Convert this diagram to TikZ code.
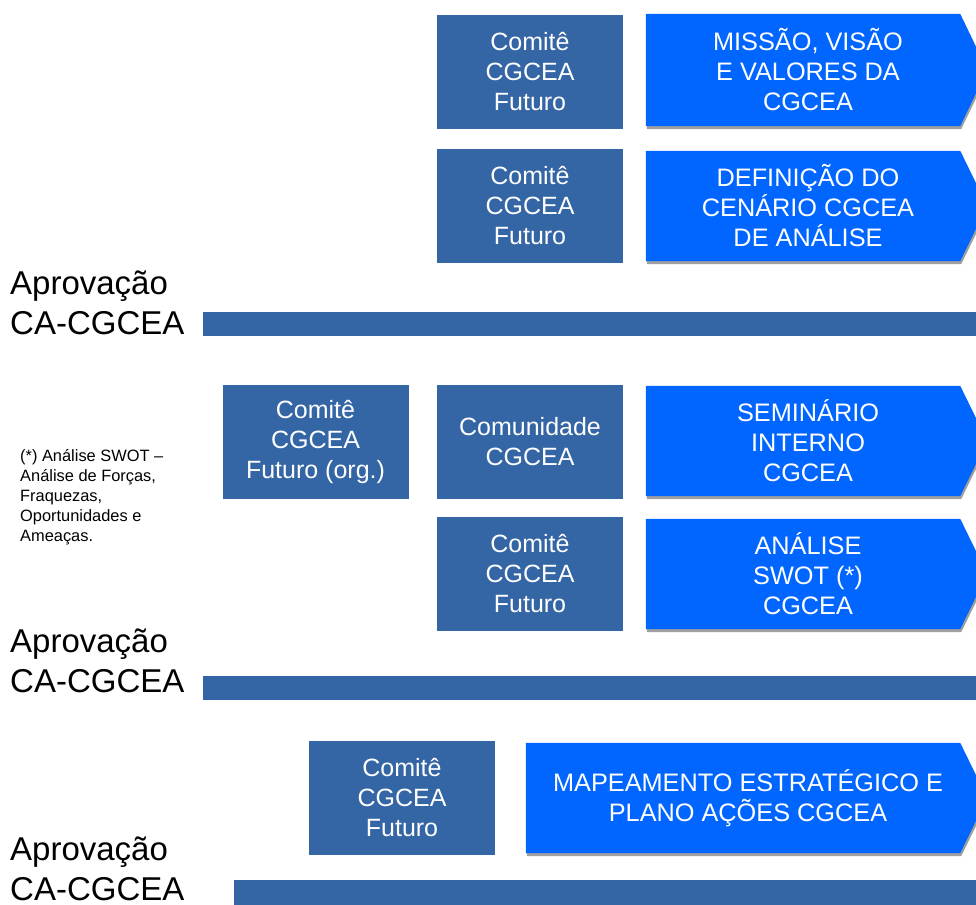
\documentclass[tikz,border=0pt]{standalone}
\usepackage{fontspec}
\setmainfont{Liberation Sans}
\usetikzlibrary{backgrounds}
\usetikzlibrary{positioning}

\definecolor{comitefill}{HTML}{3465A5}
\definecolor{stepfill}{HTML}{0066FF}
\definecolor{shadowgray}{HTML}{A0A0A0}

\tikzset{
  comite/.style={rectangle,fill=comitefill,text=white,inner sep=0pt,
    minimum width=186pt,minimum height=114pt,align=center,
    font=\fontsize{25}{30}\selectfont},
  stepbox/.style={rectangle,text=white,inner sep=0pt,
    minimum width=324pt,minimum height=110pt,align=center,
    font=\fontsize{25.3}{30}\selectfont},
  approval/.style={anchor=west,align=left,inner sep=0pt,
    font=\fontsize{33}{40}\selectfont},
  footnote/.style={anchor=north west,align=left,inner sep=0pt,
    font=\fontsize{16.4}{20}\selectfont},
  phasebar/.style={fill=comitefill}
}

% chevron behind a step node: flat left side, pointed right side
\newcommand{\stepshape}[1]{%
  \begin{pgfonlayer}{background}
    \fill[shadowgray,transform canvas={shift={(1pt,-3pt)}}]
      (#1.north west) -- ([xshift=-10pt]#1.north east) -- ([xshift=17pt]#1.east)
      -- ([xshift=-10pt]#1.south east) -- (#1.south west) -- cycle;
    \fill[stepfill]
      (#1.north west) -- ([xshift=-10pt]#1.north east) -- ([xshift=17pt]#1.east)
      -- ([xshift=-10pt]#1.south east) -- (#1.south west) -- cycle;
  \end{pgfonlayer}}

\begin{document}
\begin{tikzpicture}[x=1pt,y=-1pt]
  \useasboundingbox (0,0) rectangle (976,904);
  \clip (0,0) rectangle (976,904);

  % first phase
  \node [comite] (comite_mvv) at (530,72) {Comitê\\CGCEA\\Futuro};
  \node [stepbox,minimum height=112pt] (missao) at (808,70) {MISSÃO, VISÃO\\E VALORES DA\\CGCEA};
  \stepshape{missao}

  \node [comite] (comite_cen) at (530,206) {Comitê\\CGCEA\\Futuro};
  \node [stepbox] (cenario) at (808,206) {DEFINIÇÃO DO\\CENÁRIO CGCEA\\DE ANÁLISE};
  \stepshape{cenario}

  \node [approval] (aprov_1) at (10,302.5) {Aprovação\\CA-CGCEA};
  \fill [phasebar] (203,312) rectangle (990,336);

  % second phase
  \node [comite] (comite_org) at (315.5,441.5) {Comitê\\CGCEA\\Futuro (org.)};
  \node [comite] (comunidade) at (530,442) {Comunidade\\CGCEA};
  \node [stepbox] (seminario) at (808,441) {SEMINÁRIO\\INTERNO\\CGCEA};
  \stepshape{seminario}

  \node [comite] (comite_swot) at (530,574) {Comitê\\CGCEA\\Futuro};
  \node [stepbox] (swot) at (808,574) {ANÁLISE\\SWOT (*)\\CGCEA};
  \stepshape{swot}

  \node [footnote] (nota_swot) at (20,449) {(*) Análise SWOT –\\Análise de Forças,\\Fraquezas,\\Oportunidades e\\Ameaças.};

  \node [approval] (aprov_2) at (10,661) {Aprovação\\CA-CGCEA};
  \fill [phasebar] (203,676) rectangle (990,700);

  % third phase
  \node [comite] (comite_map) at (402,798) {Comitê\\CGCEA\\Futuro};
  \node [stepbox,minimum width=444pt] (mapeamento) at (748,798) {MAPEAMENTO ESTRATÉGICO E\\PLANO AÇÕES CGCEA};
  \stepshape{mapeamento}

  \node [approval] (aprov_3) at (10,869) {Aprovação\\CA-CGCEA};
  \fill [phasebar] (234,880) rectangle (990,920);
\end{tikzpicture}
\end{document}
